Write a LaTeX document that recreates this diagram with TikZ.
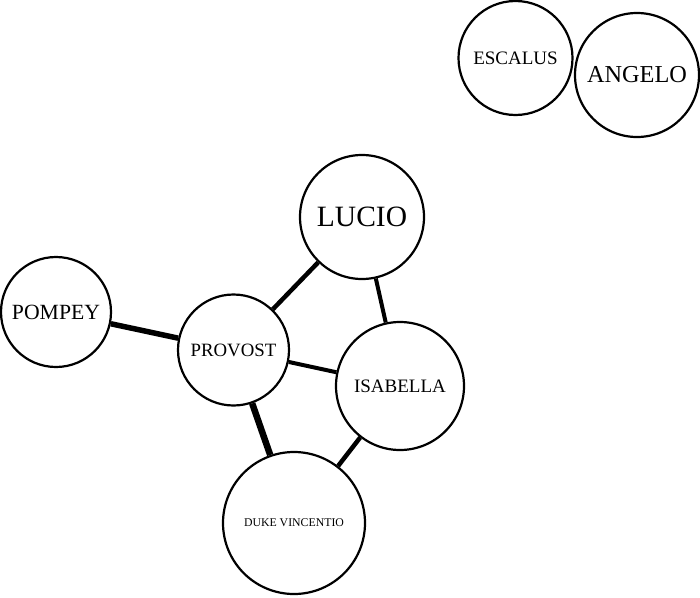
\documentclass[tikz,border=0pt]{standalone}
\usepackage{fontspec}
\setmainfont{Liberation Serif}
\usepackage{tikz}
\tikzset{
  person/.style={draw, circle, line width=2.2pt, inner sep=0pt, fill=white},
  tie/.style={line width=#1}
}

\begin{document}
\begin{tikzpicture}[x=1pt, y=-1pt]
  \useasboundingbox (0,0) rectangle (700,597);

  \node [person, minimum size=114pt, font=\fontsize{19}{19}\selectfont] (escalus) at (515.5,58) {ESCALUS};
  \node [person, minimum size=124pt, font=\fontsize{24.3}{24}\selectfont] (angelo) at (637,75) {ANGELO};

  \node [person, minimum size=124pt, font=\fontsize{29.5}{30}\selectfont] (lucio) at (362,217) {LUCIO};
  \node [person, minimum size=110pt, font=\fontsize{21.7}{22}\selectfont] (pompey) at (56,312) {POMPEY};
  \node [person, minimum size=111pt, font=\fontsize{18.8}{19}\selectfont] (provost) at (233.5,350) {PROVOST};
  \node [person, minimum size=128pt, font=\fontsize{19}{19}\selectfont] (isabella) at (400,386) {ISABELLA};
  \node [person, minimum size=142pt, font=\fontsize{11.8}{12}\selectfont] (duke) at (294,523) {DUKE VINCENTIO};

  \draw [tie=5.5pt] (pompey) -- (provost);
  \draw [tie=4.5pt] (provost) -- (lucio);
  \draw [tie=4pt] (lucio) -- (isabella);
  \draw [tie=4pt] (provost) -- (isabella);
  \draw [tie=6.5pt] (provost) -- (duke);
  \draw [tie=4.5pt] (isabella) -- (duke);
\end{tikzpicture}
\end{document}
